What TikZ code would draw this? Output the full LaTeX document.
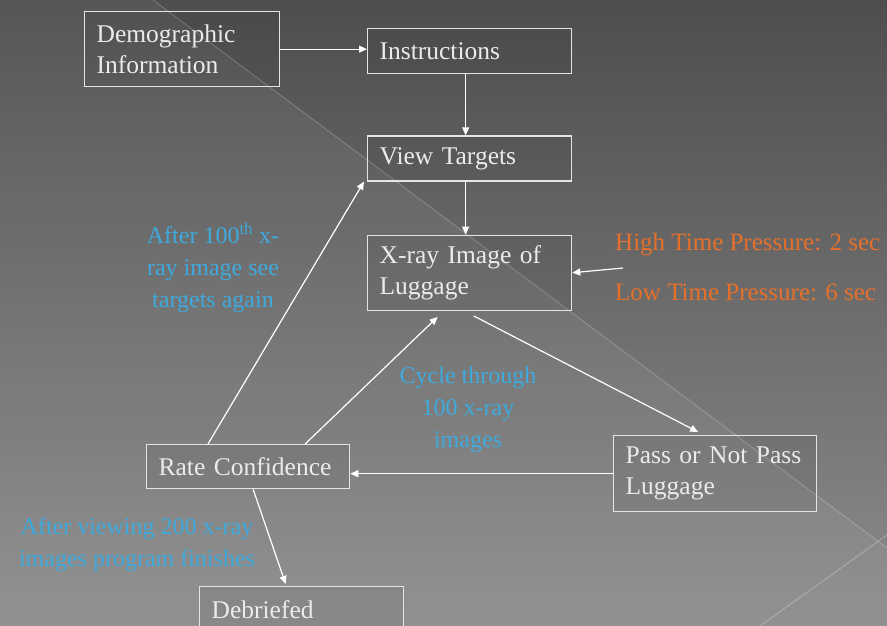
\documentclass[tikz,border=0pt]{standalone}
\usepackage{fontspec}
\setmainfont{Liberation Serif}
\usepackage{tikz}
\usetikzlibrary{positioning}
\usetikzlibrary{arrows.meta}
\definecolor{bgtop}{RGB}{78,78,78}
\definecolor{bgmid}{RGB}{100,100,100}
\definecolor{bgbot}{RGB}{140,140,140}
\definecolor{notecyan}{RGB}{62,170,222}
\definecolor{noteorange}{RGB}{230,112,42}
\definecolor{boxline}{RGB}{228,228,228}
\tikzset{box node/.style={draw=boxline,line width=1.3pt,fill=black,fill opacity=0.05,text opacity=1,text=white!92!black,align=left,inner xsep=12pt,inner ysep=0pt,font=\fontsize{25.5}{31}\selectfont},
note/.style={text=notecyan,align=center,inner sep=0pt,font=\fontsize{24}{32}\selectfont},
time note/.style={text=noteorange,anchor=west,inner sep=0pt,font=\fontsize{25}{30}\selectfont},
flow/.style={-{Triangle[length=8pt,width=7pt]},draw=white,line width=1.2pt},}

\begin{document}
\begin{tikzpicture}[x=1pt,y=-1pt]
 \useasboundingbox (0,0) rectangle (887,626);
 \shade[top color=bgtop,middle color=bgmid,bottom color=bgbot] (0,0) rectangle (887,626);
 \fill[white,opacity=0.05] (0,0) -- (153,0) -- (887,548) -- (887,626) -- (0,626) -- cycle;
 \draw[white,opacity=0.2,line width=1pt] (153,0) -- (887,548);
 \draw[white,opacity=0.25,line width=1pt] (760,626) -- (887,535);

 \node[box node,anchor=north west,text width=171pt,minimum height=75pt] (demo) at (84,11) {Demographic\\Information};
    \node[box node,anchor=north west,text width=180pt,minimum height=45pt] (instr) at (367,28) {Instructions};
    \node[box node,text width=180pt,minimum height=45pt] (view) [below=61pt of instr] {View Targets};
    \node[box node,text width=180pt,minimum height=75pt] (xray) [below=53pt of view] {X-ray Image of\\Luggage};
    \node[box node,anchor=north west,text width=179pt,minimum height=76pt] (pass) at (613,435) {Pass or Not Pass\\Luggage};
    \node[box node,anchor=north west,text width=179pt,minimum height=44pt] (rate) at (146,444) {Rate Confidence};
    \node[box node,anchor=north west,text width=180pt,minimum height=45pt] (debrief) at (199,586) {Debriefed};

    \node[note] (again) at (213,268) {After 100\textsuperscript{th} x-\\ray image see\\targets again};
    \node[note] (cycle) at (468,410) {Cycle through\\100 x-ray\\images};
    \node[note] (finish) at (137,545) {After viewing 200 x-ray\\images program finishes};
    \node[time note] (high) at (615,245) {High Time Pressure: 2 sec};
    \node[time note] (low) at (615,292) {Low Time Pressure: 6 sec};
    \coordinate (press) at (623,268);

     \path (demo.east) edge[flow] (demo.east -| instr.west);
     \path ([xshift=-4pt]instr.south) edge[flow] ([xshift=-4pt]view.north);
     \path ([xshift=-4pt]view.south) edge[flow] ([xshift=-4pt]xray.north);
     \path (press) edge[flow] (xray.east);
     \path ([xshift=4pt,yshift=-5pt]xray.south) edge[flow] ([xshift=-17pt,yshift=3pt]pass.north);
     \path (pass.west) edge[flow] (rate.east |- pass.west);
     \path ([xshift=57pt]rate.north) edge[flow] ([xshift=-32pt,yshift=-6pt]xray.south);
     \path ([xshift=62pt]rate.north west) edge[flow] ([xshift=-3pt]view.south west);
     \path ([xshift=5pt]rate.south) edge[flow] ([xshift=-16pt,yshift=2pt]debrief.north);
\end{tikzpicture}
\end{document}
